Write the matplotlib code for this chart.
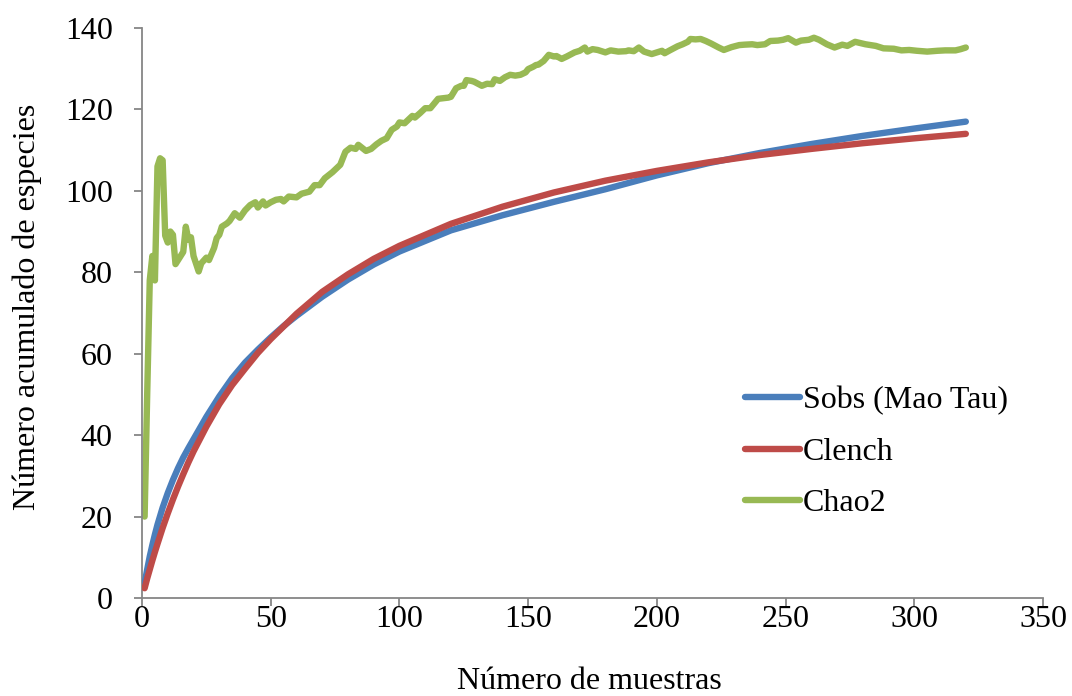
import matplotlib
matplotlib.use("Agg")
import matplotlib.pyplot as plt

plt.rcParams['font.family'] = ['Liberation Serif', 'DejaVu Serif']

# Sobs (Mao Tau)
sobs_x = [1, 2, 3, 4, 5, 6, 8, 10, 12, 14, 16, 18, 20, 25, 30, 35, 40, 45, 50,
          55, 60, 70, 80, 90, 100, 120, 140, 160, 180, 200, 220, 240, 260, 280,
          300, 320]
sobs_y = [3.6, 7.0, 10.2, 13.0, 15.6, 18.0, 22.2, 25.8, 29.0, 31.9, 34.5, 36.8,
          39.0, 44.5, 49.5, 54.0, 57.8, 61.0, 64.0, 66.8, 69.3, 74.0, 78.2, 81.9,
          85.1, 90.3, 94.0, 97.3, 100.4, 103.8, 106.8, 109.3, 111.5, 113.5,
          115.3, 117.0]

# Clench
clench_x = [1, 2, 3, 4, 5, 6, 8, 10, 12, 14, 16, 18, 20, 25, 30, 35, 40, 45, 50,
            60, 70, 80, 90, 100, 120, 140, 160, 180, 200, 220, 240, 260, 280,
            300, 320]
clench_y = [2.4, 4.8, 7.0, 9.2, 11.3, 13.3, 17.2, 20.8, 24.2, 27.4, 30.4, 33.3,
            36.0, 42.1, 47.6, 52.3, 56.3, 60.2, 63.6, 69.8, 75.2, 79.5, 83.3,
            86.5, 91.9, 96.1, 99.6, 102.5, 104.9, 107.0, 108.8, 110.3, 111.7,
            112.9, 114.0]

# Chao2
chao_x = [1, 2, 3, 4, 5, 6, 7, 8, 9, 10, 11, 12, 13, 15, 16, 17, 18, 19, 20, 22,
          23, 25, 26, 28, 29, 30, 31, 33, 34, 36, 38, 40, 42, 44, 45, 47, 48, 50,
          52, 54, 55, 57, 60, 62, 65, 67, 69, 71, 74, 77, 79, 81, 83, 84, 87, 89,
          91, 93, 95, 97, 99, 100, 102, 105, 106, 108, 110, 112, 115, 119, 120,
          122, 124, 125, 126, 128, 129, 132, 134, 136, 137, 139, 141, 143, 145,
          147, 149, 150, 152, 153, 154, 156, 158, 160, 161, 163, 165, 168, 170,
          172, 173, 175, 177, 180, 182, 185, 188, 189, 191, 193, 195, 198, 200,
          202, 203, 205, 208, 210, 212, 213, 215, 217, 219, 221, 224, 226, 229,
          232, 234, 237, 239, 242, 244, 247, 249, 251, 254, 256, 259, 261, 263,
          266, 269, 272, 274, 277, 281, 285, 288, 292, 295, 298, 301, 305, 309,
          312, 316, 318, 320]
chao_y = [20.0, 50.0, 78.0, 84.0, 78.0, 106.0, 108.0, 107.5, 89.0, 87.3, 90.0,
          89.2, 82.0, 84.0, 85.0, 91.2, 88.0, 88.6, 84.0, 80.2, 82.2, 83.6, 83.0,
          86.0, 88.4, 89.2, 91.2, 92.0, 92.6, 94.5, 93.4, 95.2, 96.5, 97.2, 95.9,
          97.4, 96.4, 97.2, 97.8, 98.0, 97.4, 98.6, 98.4, 99.3, 99.8, 101.4,
          101.4, 103.1, 104.6, 106.4, 109.6, 110.6, 110.3, 111.3, 109.8, 110.3,
          111.4, 112.3, 112.9, 115.0, 115.8, 116.8, 116.6, 118.4, 118.0, 119.1,
          120.3, 120.3, 122.6, 122.9, 123.1, 125.2, 125.8, 125.8, 127.2, 127.0,
          126.8, 125.8, 126.3, 126.2, 127.4, 127.0, 127.9, 128.5, 128.3, 128.5,
          129.1, 129.9, 130.5, 130.9, 131.0, 131.9, 133.4, 133.0, 133.1, 132.4,
          133.0, 134.0, 134.4, 135.2, 134.2, 134.8, 134.6, 134.0, 134.5, 134.2,
          134.3, 134.5, 134.3, 135.2, 134.2, 133.6, 134.0, 134.4, 133.8, 134.5,
          135.5, 136.0, 136.6, 137.3, 137.2, 137.3, 136.8, 136.2, 135.2, 134.6,
          135.3, 135.8, 135.9, 136.0, 135.8, 136.0, 136.8, 136.9, 137.1, 137.5,
          136.4, 136.9, 137.1, 137.6, 137.1, 136.0, 135.2, 135.9, 135.6, 136.6,
          136.0, 135.6, 135.0, 134.9, 134.5, 134.6, 134.4, 134.2, 134.4, 134.5,
          134.5, 134.8, 135.2]

blue = '#4A7EBB'
red = '#BE4B48'
green = '#98B954'
axis_grey = '#868686'
fs = 23

fig = plt.figure(figsize=(10.72, 6.96), dpi=100)
ax = fig.add_axes([0.1325, 0.1408, 0.8405, 0.819])

lw = 4.6
style = dict(lw=lw, solid_capstyle='round', solid_joinstyle='round')
ax.plot(sobs_x, sobs_y, color=blue, label='Sobs (Mao Tau)', zorder=3, **style)
ax.plot(clench_x, clench_y, color=red, label='Clench', zorder=4, **style)
ax.plot(chao_x, chao_y, color=green, label='Chao2', zorder=2, **style)

ax.set_xlim(0, 350)
ax.set_ylim(0, 140)
ax.set_xticks(range(0, 351, 50))
ax.set_yticks(range(0, 141, 20))

for side in ['top', 'right']:
    ax.spines[side].set_visible(False)
for side in ['left', 'bottom']:
    ax.spines[side].set_color(axis_grey)
    ax.spines[side].set_linewidth(1.3)

ax.tick_params(axis='y', direction='out', length=6, width=1.3, color=axis_grey,
               labelsize=fs, pad=15)
ax.tick_params(axis='x', direction='out', length=6, width=1.3, color=axis_grey,
               labelsize=fs, pad=-1)

ax.set_xlabel('Número de muestras', fontsize=fs)
ax.xaxis.set_label_coords(0.497, -0.121)
ax.set_ylabel('Número acumulado de especies', fontsize=fs)
ax.yaxis.set_label_coords(-0.111, 0.51)

ax.legend(loc='center left', bbox_to_anchor=(745 / 1072, 1 - 452 / 696),
          bbox_transform=fig.transFigure, frameon=False, fontsize=fs,
          handlelength=1.72, handletextpad=0.1, labelspacing=0.68,
          borderpad=0, borderaxespad=0)

fig.savefig('out.png', dpi=100)
